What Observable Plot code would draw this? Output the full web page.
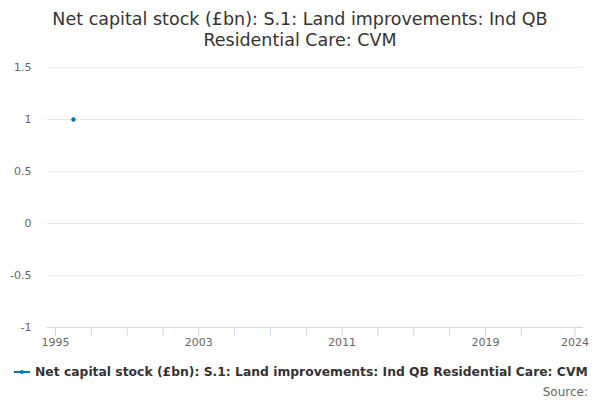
<!DOCTYPE html>
<html>
<head>
<meta charset="utf-8">
<script src="https://cdn.jsdelivr.net/npm/d3@7"></script>
<script src="https://cdn.jsdelivr.net/npm/@observablehq/plot@0.6"></script>
<style>
  body { margin: 0; width: 600px; height: 400px; overflow: hidden; background: #fff; font-family: "DejaVu Sans", sans-serif; }
  #title { position: absolute; left: 0; top: 9px; width: 600px; text-align: center; font-size: 17.5px; line-height: 21px; color: #333; }
  #chart { position: absolute; left: 0; top: 50px; }
  #legend { position: absolute; left: 14px; top: 365px; display: flex; align-items: center; font-size: 12.35px; font-weight: bold; color: #333; white-space: nowrap; }
  #legend svg { margin-right: 5px; }
  #source { position: absolute; right: 12px; top: 385px; font-size: 12px; color: #666; }
</style>
</head>
<body>
<div id="title">Net capital stock (£bn): S.1: Land improvements: Ind QB<br>Residential Care: CVM</div>
<div id="chart"></div>
<div id="legend"></div>
<div id="source">Source:</div>
<script>
const seriesName = "Net capital stock (£bn): S.1: Land improvements: Ind QB Residential Care: CVM";
const years = [1996];
const values = [1];
const xTicks = [1995, 1997, 1999, 2001, 2003, 2005, 2007, 2009, 2011, 2013, 2015, 2017, 2019, 2021, 2024];
const xLabels = [1995, 2003, 2011, 2019, 2024];
const yTicks = [-1, -0.5, 0, 0.5, 1, 1.5];
const color = "#0076be";

const data = years.map((y, i) => ({year: y, value: values[i]}));

const chart = Plot.plot({
  width: 600,
  height: 300,
  marginLeft: 47,
  marginRight: 17,
  marginTop: 17,
  marginBottom: 23,
  style: {fontFamily: "DejaVu Sans, sans-serif", fontSize: "11px", color: "#666", background: "transparent"},
  x: {domain: [1995, 2024], insetLeft: 8, insetRight: 8.5},
  y: {domain: [-1, 1.5]},
  marks: [
    Plot.ruleY(yTicks.filter(d => d !== -1), {stroke: "#e6e6e6", strokeOpacity: 1}),
    Plot.axisY({ticks: yTicks, tickSize: 0, tickPadding: 16, label: null, fill: "#666", tickFormat: d => String(d)}),
    Plot.ruleY([-1], {stroke: "#ccd6eb", strokeOpacity: 1}),
    Plot.axisX({ticks: xTicks, tickSize: 9, tickPadding: 2, label: null, stroke: "#ccd6eb", strokeOpacity: 1,
      tickFormat: d => xLabels.includes(d) ? String(d) : "", fill: "#666"}),
    Plot.line(data, {x: "year", y: "value", stroke: color, strokeWidth: 2}),
    Plot.dot(data, {x: "year", y: "value", r: 2.2, fill: color, stroke: "none"})
  ]
});
document.getElementById("chart").appendChild(chart);

const leg = document.getElementById("legend");
leg.innerHTML = `<svg width="16" height="10"><line x1="0" y1="5" x2="16" y2="5" stroke="${color}" stroke-width="2"/><circle cx="8" cy="5" r="2" fill="${color}"/></svg><span>${seriesName}</span>`;
</script>
</body>
</html>
